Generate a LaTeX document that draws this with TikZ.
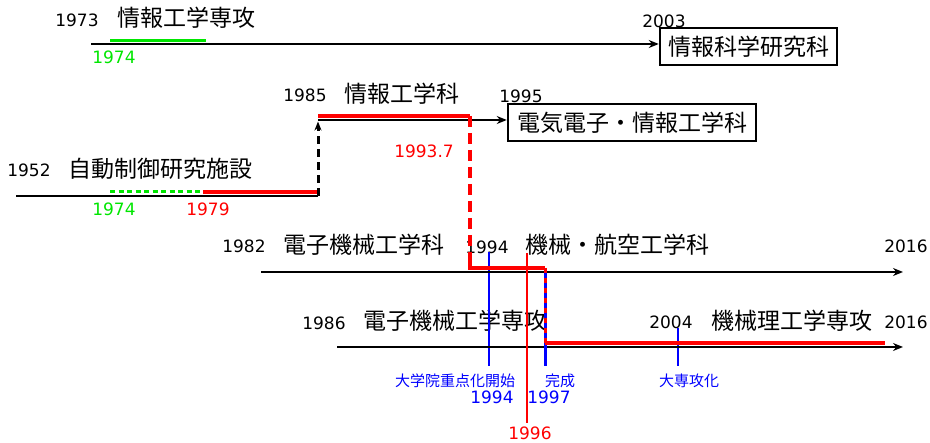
\documentclass[tikz,border=0pt]{standalone}
\usepackage{fontspec}
\setmainfont{DejaVu Sans}
\newfontfamily\jp{Noto Sans CJK JP}
\usetikzlibrary{arrows.meta}
\definecolor{myred}{RGB}{255,0,0}
\definecolor{mygreen}{RGB}{0,230,0}
\definecolor{myblue}{RGB}{0,0,255}
\begin{document}
\begin{tikzpicture}[x=1pt,y=-1pt,
  yr/.style={font=\fontsize{17}{17}\selectfont, inner sep=0pt},
  ttl/.style={font=\jp\fontsize{23}{23}\selectfont, inner sep=0pt},
  sml/.style={font=\jp\fontsize{15}{15}\selectfont, inner sep=0pt, text=myblue},
  boxnode/.style={draw, line width=2.5pt, font=\jp\fontsize{23}{23}\selectfont, inner sep=0pt, minimum height=37pt},
  blk/.style={line width=2.7pt},
  axis/.style={line width=2.7pt, -{Stealth[length=10pt,width=8pt]}},
  redthick/.style={myred, line width=3.5pt},
  reddash/.style={myred, line width=4pt, dash pattern=on 11pt off 6pt},
  greenthick/.style={mygreen, line width=3.5pt},
  greendash/.style={mygreen, line width=3pt, dash pattern=on 5pt off 3.5pt},
  blkdash/.style={line width=3pt, dash pattern=on 8pt off 5pt, -{Stealth[length=9pt,width=7pt]}},
  bluethin/.style={myblue, line width=2pt},
  redthin/.style={myred, line width=2pt},
]
\useasboundingbox (0,0) rectangle (930,443);

% ---------- row 1 ----------
\node[yr] (y1973) at (77,20) {1973};
\node[ttl] (t1) at (186,18) {情報工学専攻};
\node[boxnode, minimum width=177pt] (b1) at (748.5,46.5) {情報科学研究科};
\node[yr] (y2003) at (664,21) {2003};
\coordinate (l1s) at (91,44);
\draw[axis] (l1s) -- (l1s -| b1.west);
\coordinate (g1s) at (110,40.5);
\coordinate (g1e) at (206,40.5);
\draw[greenthick] (g1s) -- (g1e);
\node[yr, text=mygreen] (g1974a) at (114,57) {1974};

% ---------- row 2 ----------
\node[yr] (y1985) at (305,95) {1985};
\node[ttl] (t2) at (402,94) {情報工学科};
\node[yr] (y1995) at (521,96) {1995};
\node[boxnode, minimum width=248pt] (b2) at (632,122.5) {電気電子・情報工学科};
\coordinate (l2s) at (318,120);
\draw[axis] (l2s) -- (l2s -| b2.west);
\coordinate (r2s) at (318,116);
\coordinate (r2e) at (470,116);
\draw[redthick] (r2s) -- (r2e);
\node[yr, text=myred] (y19937) at (424,151) {1993.7};

% ---------- row 3 ----------
\node[yr] (y1952) at (29,170) {1952};
\node[ttl] (t3) at (160,169) {自動制御研究施設};
\coordinate (l3s) at (16,196);
\coordinate (l3e) at (318,196);
\draw[blk] (l3s) -- (l3e);
\coordinate (g3s) at (110,192);
\coordinate (g3e) at (203,192);
\coordinate (r3e) at (318,192);
\draw[greendash] (g3s) -- (g3e);
\draw[redthick] (g3e) -- (r3e);
\draw[blkdash, shorten >=1.5pt] (l3e) -- (l2s);
\node[yr, text=mygreen] (g1974b) at (114,209) {1974};
\node[yr, text=myred] (y1979) at (208,209) {1979};

% ---------- row 4 ----------
\node[yr] (y1982) at (244,246) {1982};
\node[ttl] (t4) at (364,245) {電子機械工学科};
\node[yr] (y1994a) at (487,247) {1994};
\node[ttl] (t5) at (617,245) {機械・航空工学科};
\node[yr] (y2016a) at (906,246) {2016};
\coordinate (l4s) at (261,272);
\coordinate (l4e) at (903,272);

% ---------- row 5 ----------
\node[yr] (y1986) at (324,323) {1986};
\node[ttl] (t6) at (455,321) {電子機械工学専攻};
\node[yr] (y2004) at (671,322) {2004};
\node[ttl] (t7) at (792,321) {機械理工学専攻};
\node[yr] (y2016b) at (906,322) {2016};
\coordinate (l5s) at (337,347);
\coordinate (l5e) at (903,347);

% ---------- markers ----------
\coordinate (m1t) at (489,252); \coordinate (m1b) at (489,366);
\coordinate (m2t) at (527,253); \coordinate (m2b) at (527,423);
\coordinate (m3t) at (545,270); \coordinate (m3b) at (545,366);
\coordinate (m4t) at (678,328); \coordinate (m4b) at (678,366);
\draw[bluethin] (m1t) -- (m1b);
\draw[bluethin] (m4t) -- (m4b);
\draw[axis] (l4s) -- (l4e);
\draw[axis] (l5s) -- (l5e);
\draw[myblue, line width=3pt] (m3t) -- (m3b);
\draw[redthin] (m2t) -- (m2b);

% ---------- red transfer path ----------
\coordinate (p1) at (470,268);
\coordinate (p2) at (545,268);
\coordinate (p3) at (545,343);
\coordinate (p4) at (885,343);
\draw[reddash] (r2e) -- (p1);
\draw[redthick, line join=miter] (470,262) -- (p1) -- (p2);
\draw[myred, line width=3pt, dash pattern=on 5pt off 5pt] (p2) -- (p3);
\draw[redthick] (p3) -- (p4);

% ---------- lower labels ----------
\node[sml] (s1) at (455,381) {大学院重点化開始};
\node[sml] (s2) at (560,381) {完成};
\node[sml] (s3) at (689,381) {大専攻化};
\node[yr, text=myblue] (y1994b) at (492,397) {1994};
\node[yr, text=myblue] (y1997) at (549,397) {1997};
\node[yr, text=myred] (y1996) at (530,433) {1996};
\end{tikzpicture}
\end{document}
